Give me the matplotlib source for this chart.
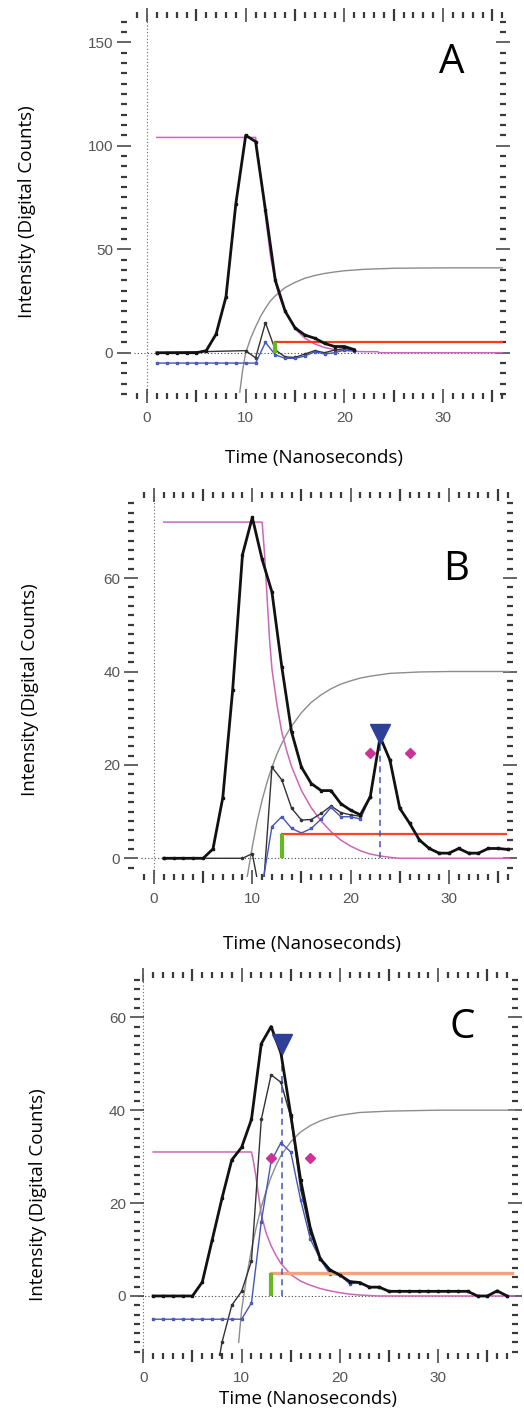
import matplotlib
matplotlib.use("Agg")
import matplotlib.pyplot as plt
from matplotlib.ticker import MultipleLocator, FixedLocator

# ---------------- panel A ----------------
a_x = list(range(1, 22))
a_raw = [0, 0, 0, 0, 0, 1, 9, 27, 72, 105, 102, 69, 35, 20, 12, 8.5, 7, 4.5, 3, 3, 1.5]
a_blue = [-5, -5, -5, -5, -5, -5, -5, -5, -5, -5, -5, 5, -1, -2.7, -2.7, -1.6, 0.5, -0.6, 0, 1.3, 1]
a_diff_x = [1, 10, 11, 12, 13, 14, 15, 16, 17, 18, 19, 20, 21]
a_diff = [0, 1, -2.5, 14.5, 1.3, -2, -2.3, -0.6, 1, 0, 1.3, 2, 1.3]
a_fit_x = [1, 11, 11.5, 12, 12.5, 13, 13.5, 14, 15, 16, 17, 18, 19, 20, 21, 22, 23.4, 23.5, 36]
a_fit = [104, 104, 86, 66, 47, 34, 26, 20, 11.5, 7, 4.2, 2.5, 1.5, 1, 0.7, 0.5, 0.5, 0, 0]
a_cum_x = [9.4, 9.7, 10, 10.5, 11, 11.5, 12, 12.5, 13, 14, 15, 16, 17, 18, 19, 20, 22, 25, 30, 36.1]
a_cum = [-19, -8, 0, 7, 12.5, 17.5, 21.5, 25, 27.5, 31.5, 34, 36, 37.3, 38.3, 39, 39.6, 40.3, 40.8, 41, 41]
a_start, a_thresh = 13, 5

# ---------------- panel B ----------------
b_x = list(range(1, 37))
b_raw = [0, 0, 0, 0, 0, 2, 13, 36, 65, 73, 64, 57, 41, 27, 19.5, 16, 14.5, 14.5, 11.7, 10.3, 9.3,
         13.2, 26, 21, 10.7, 7.5, 3.9, 2.1, 1.1, 1.1, 2.1, 1.1, 1.1, 2.1, 2.1, 1.9]
b_blue_x = list(range(11, 37))
b_blue = [-6, 6.8, 8.9, 6.4, 5.4, 6.4, 8.4, 10.9, 8.9, 8.9, 8.4, 13.2, 26, 21, 10.7, 7.5, 3.9,
          2.1, 1.1, 1.1, 2.1, 1.1, 1.1, 2.1, 2.1, 1.9]
b_diff_x = [1, 9, 10, 11, 12, 13, 14, 15, 16, 17, 18, 19, 20, 21, 22]
b_diff = [0, 0, 1, -10, 19.5, 16.8, 10.7, 8.2, 8.3, 9.6, 11.2, 9.8, 9.3, 9, 13.2]
b_fit_x = [1, 11, 11.25, 11.5, 11.75, 12, 12.5, 13, 13.5, 14, 15, 16, 17, 18, 19, 20, 21, 22, 23, 24, 25, 36.2]
b_fit = [72, 72, 65, 56, 47, 40.5, 33, 27, 23, 19.6, 14.5, 10.8, 8, 5.7, 3.9, 2.6, 1.6, 0.9, 0.5, 0.2, 0, 0]
b_cum_x = [9.4, 10, 10.5, 11, 11.5, 12, 12.5, 13, 13.5, 14, 15, 16, 17, 18, 19, 20, 21, 22, 24, 27, 30, 36.2]
b_cum = [-5, 2.5, 8, 12.5, 16.3, 19.5, 22.3, 24.6, 26.6, 28.3, 31.2, 33.4, 35, 36.3, 37.3, 38, 38.6, 39,
         39.6, 39.9, 40, 40]
b_peak = (23, 26.6)
b_width = [22, 26]
b_width_y = 22.6
b_start, b_thresh = 13, 5.3

# ---------------- panel C ----------------
c_x = list(range(1, 38))
c_raw = [0, 0, 0, 0, 0, 3, 12, 21, 29.3, 32, 38, 54.3, 58, 52.3, 39, 25, 14.5, 8, 5.6, 4.5, 3.1,
         2.9, 1.9, 1.9, 1, 1, 1, 1, 1, 1, 1, 1, 1, 0, 0, 1.1, 0]
c_blue = [-5, -5, -5, -5, -5, -5, -5, -5, -5, -5, -1.5, 16, 29, 33, 31, 20.7, 12.2, 7.9, 4.7, 4.5,
          2.6, 2.9, 1.9, 1.9, 1, 1, 1, 1, 1, 1, 1, 1, 1, 0, 0, 1.1, 0]
c_diff_x = [7.8, 8, 9, 10, 11, 12, 13, 14, 15, 16, 17, 18, 19, 20, 21]
c_diff = [-12.5, -10, -2, 1, 7.5, 38, 47.6, 46, 38.5, 23, 13.5, 8, 5, 4.5, 3.1]
c_fit_x = [1, 11, 11.2, 11.4, 11.6, 11.8, 12, 12.5, 13, 13.5, 14, 15, 16, 17, 18, 19, 20, 21, 22, 23, 24, 37.8]
c_fit = [31, 31, 29, 26.5, 23.5, 20.5, 17.5, 13.5, 10.8, 8.7, 7, 4.6, 3.2, 2.3, 1.6, 1.1, 0.7, 0.4,
         0.2, 0.1, 0, 0]
c_cum_x = [9.7, 10, 10.5, 11, 11.5, 12, 12.5, 13, 13.5, 14, 15, 16, 17, 18, 19, 20, 22, 25, 30, 37.8]
c_cum = [-10, -3, 4, 10, 14.9, 19.2, 22.6, 25.6, 28.1, 30.2, 33.2, 35.3, 36.7, 37.7, 38.4, 38.9, 39.5,
         39.8, 40, 40]
c_peak = (14.1, 54.3)
c_width = [13, 17]
c_width_y = 29.8
c_start, c_thresh = 13, 5

W, H = 524, 1412
plt.rcParams['font.family'] = ['Liberation Sans', 'DejaVu Sans']
label_font = ['Open Sans', 'DejaVu Sans']


def add_axes(fig, left, top, right, bottom):
    return fig.add_axes([left / W, 1 - bottom / H, (right - left) / W, (bottom - top) / H])


def frame(ax, xlim, ylim, ymajor, yminor, left_out):
    ax.set_xlim(*xlim)
    ax.set_ylim(*ylim)
    for s in ax.spines.values():
        s.set_visible(False)
    ax.spines['left'].set_position(('outward', left_out))
    ax.set_facecolor('none')
    ax.xaxis.set_major_locator(MultipleLocator(10))
    ax.yaxis.set_major_locator(MultipleLocator(ymajor))
    ax.yaxis.set_minor_locator(MultipleLocator(yminor))
    xl = [v for v in range(int(xlim[0]) - 1, int(xlim[1]) + 2) if v % 10 != 0]
    ax.xaxis.set_minor_locator(FixedLocator(xl))
    ax.tick_params(which='both', top=True, right=True, direction='inout', colors='#3a3a3a',
                   labelcolor='#555555', labelsize=11)
    ax.tick_params(which='major', length=10, width=1.1)
    ax.tick_params(which='minor', length=5, width=1.6)
    ax.tick_params(axis='x', pad=6)
    ax.tick_params(axis='y', pad=3)
    # longer ticks at every 5 ns
    ticks = ax.xaxis.get_minor_ticks(len(xl))
    for t, v in zip(ticks, xl):
        if v % 5 == 0:
            t.tick1line.set_markersize(8)
            t.tick2line.set_markersize(8)
    ax.axhline(0, color='#444444', lw=0.8, ls=(0, (1, 2)), zorder=1)
    ax.axvline(0, color='#666666', lw=0.8, ls=(0, (1, 2)), zorder=1)


def traces(ax, x, raw, bx, blue, dx, diff, fx, fit, cx, cum, start, thresh, xmax, red, red_lw):
    ax.plot(fx, fit, color='#cc66bb', lw=1.1, zorder=2)
    ax.plot(cx, cum, color='#8c8c8c', lw=1.0, zorder=2)
    ax.plot(dx, diff, color='#333333', lw=1.0, marker='o', ms=1.6, zorder=3)
    ax.plot(bx, blue, color='#4455bb', lw=1.0, marker='s', ms=2.0, mfc='#8090dd', zorder=3)
    ax.plot(x, raw, color='#111111', lw=2.0, marker='s', ms=1.8, zorder=4)
    ax.plot([start, xmax], [thresh, thresh], color=red, lw=red_lw, zorder=3)
    ax.plot([start, start], [0, thresh], color='#66b822', lw=3, zorder=3, solid_capstyle='butt')


fig = plt.figure(figsize=(W / 100, H / 100), dpi=100)

# A
ax = add_axes(fig, 134.2, 15.3, 503.3, 396.2)
frame(ax, (-1.3, 36.1), (-21, 163), 50, 5, 7)
traces(ax, a_x, a_raw, a_x, a_blue, a_diff_x, a_diff, a_fit_x, a_fit, a_cum_x, a_cum,
       a_start, a_thresh, 36.1, '#ff3a1a', 1.6)

# B
ax = add_axes(fig, 141.2, 495, 509.9, 876.5)
frame(ax, (-1.3, 36.2), (-3.9, 77.8), 20, 2, 7)
traces(ax, b_x, b_raw, b_blue_x, b_blue, b_diff_x, b_diff, b_fit_x, b_fit, b_cum_x, b_cum,
       b_start, b_thresh, 35.8, '#ff4422', 1.6)
ax.plot([b_peak[0], b_peak[0]], [0, b_peak[1]], color='#4455bb', lw=1.1, ls=(0, (4, 3)), zorder=3)
ax.plot(b_peak[0], b_peak[1], marker='v', ms=14, color='#2e3f99', zorder=5)
ax.plot(b_width, [b_width_y, b_width_y], ls='none', marker='D', ms=5, color='#cc3399', zorder=5)

# C
ax = add_axes(fig, 138.4, 975, 514.9, 1355.9)
frame(ax, (-0.5, 37.8), (-12.9, 69.1), 20, 2, 1)
traces(ax, c_x, c_raw, c_x, c_blue, c_diff_x, c_diff, c_fit_x, c_fit, c_cum_x, c_cum,
       c_start, c_thresh, 37.5, '#f6a27c', 2.4)
ax.plot([c_peak[0], c_peak[0]], [0, c_peak[1]], color='#4455bb', lw=1.1, ls=(0, (4, 3)), zorder=3)
ax.plot(c_peak[0], c_peak[1], marker='v', ms=14, color='#2e3f99', zorder=5)
ax.plot(c_width, [c_width_y, c_width_y], ls='none', marker='D', ms=5, color='#cc3399', zorder=5)

# texts
for (lx, ly), (tx, ty), (px, py), letter in [((314, 458), (27, 212), (452, 63), 'A'),
                                             ((312, 944), (30, 690), (456, 570), 'B'),
                                             ((308, 1399), (38, 1195), (462, 1028), 'C')]:
    fig.text(lx / W, 1 - ly / H, 'Time (Nanoseconds)', ha='center', va='center',
             fontsize=13.5, family=label_font)
    fig.text(tx / W, 1 - ty / H, 'Intensity (Digital Counts)', ha='center', va='center',
             rotation=90, fontsize=13.5, family=label_font)
    fig.text(px / W, 1 - py / H, letter, ha='center', va='center', fontsize=29, family=label_font)

fig.savefig('out.png', dpi=100)
plt.close()
